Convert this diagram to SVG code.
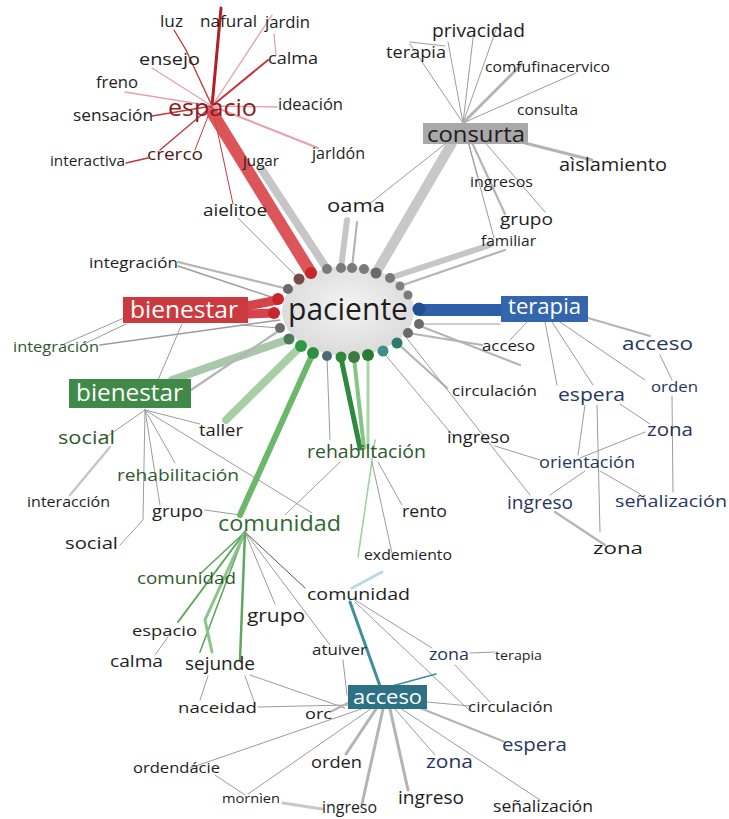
<svg xmlns="http://www.w3.org/2000/svg" width="729" height="819" viewBox="0 0 729 819">
<defs>
  <radialGradient id="hubFill" cx="50%" cy="45%" r="60%">
    <stop offset="0%" stop-color="#f4f4f4"/>
    <stop offset="100%" stop-color="#d8d8d8"/>
  </radialGradient>
</defs>
<style>
  text { font-family: "Open Sans", "Liberation Sans", sans-serif; fill: #1e1e1e; }
  .navy { fill: #27365f; }
  .dg { fill: #2d5a2d; }
  .wt { fill: #ffffff; }
  line, polyline { stroke-linecap: round; fill: none; }
  .g1 { stroke: #9c9c9c; stroke-width: 1; }
  .g2 { stroke: #b4b4b4; stroke-width: 2.2; }
  .g3 { stroke: #c6c6c6; stroke-width: 7; }
  .r1 { stroke: #c0393f; stroke-width: 1.4; }
  .p1 { stroke: #e6a3a6; stroke-width: 1.3; }
  .gn1 { stroke: #5ea85e; stroke-width: 1.6; }
  .gn2 { stroke: #8cc58c; stroke-width: 3; }
  .tl1 { stroke: #3e8ea0; stroke-width: 1.5; }
  .dot { stroke: none; }
</style>

<rect width="729" height="819" fill="#ffffff"/>

<g id="connectors">
  <!-- espacio cluster -->
  <line class="r1" x1="212" y1="106" x2="221" y2="8" style="stroke-width:3;stroke:#b32024"/>
  <polyline class="r1" points="174,30 186,50 212,106"/>
  <line class="p1" x1="212" y1="106" x2="272" y2="15"/>
  <line class="p1" x1="274" y1="34" x2="276" y2="55"/>
  <line class="r1" x1="212" y1="106" x2="268" y2="60" style="stroke-width:2"/>
  <line class="p1" x1="212" y1="106" x2="152" y2="68"/>
  <line class="p1" x1="212" y1="106" x2="125" y2="92"/>
  <line class="r1" x1="212" y1="106" x2="152" y2="116"/>
  <line class="p1" x1="212" y1="106" x2="277" y2="107"/>
  <line class="p1" x1="212" y1="106" x2="318" y2="148" style="stroke-width:2"/>
  <line class="r1" x1="212" y1="106" x2="160" y2="150"/>
  <line class="r1" x1="148" y1="158" x2="126" y2="163"/>
  <line class="r1" x1="212" y1="106" x2="195" y2="150" style="stroke-width:1"/>
  <line class="p1" x1="212" y1="106" x2="243" y2="170"/>
  <line class="r1" x1="212" y1="106" x2="233" y2="204" style="stroke-width:1"/>
  <line class="g1" x1="238" y1="218" x2="299" y2="279"/>
  <line class="g3" x1="262" y1="170" x2="327" y2="269" style="stroke-width:8"/>
  <line x1="213" y1="114" x2="311" y2="273" style="stroke:#d9464b;stroke-width:12;opacity:0.92"/>

  <!-- consurta cluster -->
  <line class="g1" x1="463" y1="123" x2="410" y2="44"/>
  <line class="g1" x1="410" y1="42" x2="445" y2="46"/>
  <line class="g1" x1="463" y1="123" x2="448" y2="42"/>
  <line class="g1" x1="463" y1="123" x2="474" y2="30"/>
  <line class="g1" x1="463" y1="123" x2="497" y2="27"/>
  <line class="g2" x1="463" y1="123" x2="522" y2="64" style="stroke-width:3"/>
  <line class="g1" x1="463" y1="123" x2="576" y2="73"/>
  <line class="g2" x1="525" y1="143" x2="592" y2="160" style="stroke-width:3"/>
  <line class="g1" x1="463" y1="123" x2="478" y2="177"/>
  <line class="g2" x1="463" y1="123" x2="505" y2="214"/>
  <line class="g1" x1="463" y1="123" x2="494" y2="238"/>
  <line class="g1" x1="470" y1="125" x2="545" y2="212"/>
  <line class="g1" x1="445" y1="144" x2="368" y2="205"/>
  <line x1="452" y1="143" x2="376" y2="273" style="stroke:#c8c8c8;stroke-width:10"/>
  <line class="g3" x1="490" y1="245" x2="390" y2="278" style="stroke-width:6"/>
  <line class="g2" x1="505" y1="250" x2="400" y2="286"/>
  <line class="g3" x1="347" y1="220" x2="341" y2="268" style="stroke-width:6"/>
  <line class="g2" x1="357" y1="222" x2="352" y2="268"/>

  <!-- bienestar (red) side -->
  <line class="g2" x1="178" y1="262" x2="288" y2="289"/>
  <line class="g1" x1="178" y1="266" x2="280" y2="300" style="stroke-width:1.5"/>
  <line x1="247" y1="306" x2="278" y2="300" style="stroke:#d64449;stroke-width:9"/>
  <line x1="247" y1="314" x2="274" y2="313" style="stroke:#d64449;stroke-width:9"/>
  <line class="g1" x1="240" y1="325" x2="280" y2="328"/>
  <line class="g1" x1="124" y1="318" x2="62" y2="345"/>
  <line class="g1" x1="126" y1="324" x2="82" y2="345"/>
  <line class="g1" x1="182" y1="324" x2="158" y2="380"/>
  <line class="g1" x1="100" y1="345" x2="280" y2="320" style="stroke-width:1.5"/>

  <!-- bienestar (green) side -->
  <line x1="172" y1="380" x2="289" y2="339" style="stroke:#a9c8a9;stroke-width:8"/>
  <line class="g2" x1="191" y1="390" x2="280" y2="330"/>
  <line x1="226" y1="420" x2="301" y2="346" style="stroke:#a6cfa6;stroke-width:8"/>
  <line class="g1" x1="145" y1="410" x2="102" y2="440"/>
  <line class="g2" x1="110" y1="447" x2="70" y2="495" style="stroke:#c4c4c4"/>
  <polyline class="g1" points="145,410 143,520 120,545"/>
  <line class="g1" x1="145" y1="410" x2="160" y2="505"/>
  <line class="g1" x1="145" y1="410" x2="175" y2="463"/>
  <line class="g1" x1="145" y1="410" x2="200" y2="424"/>
  <line class="g1" x1="145" y1="410" x2="312" y2="513"/>
  <line class="g1" x1="205" y1="510" x2="240" y2="515"/>

  <!-- paciente to rehabiltación / comunidad -->
  <line x1="240" y1="515" x2="313" y2="353" style="stroke:#6bb86b;stroke-width:6"/>
  <line x1="360" y1="448" x2="341" y2="358" style="stroke:#2f8a3f;stroke-width:5"/>
  <line x1="364" y1="448" x2="354" y2="358" style="stroke:#86c486;stroke-width:4"/>
  <line x1="368" y1="448" x2="368" y2="355" style="stroke:#a8d8a8;stroke-width:3"/>
  <line class="g1" x1="327" y1="356" x2="330" y2="440"/>
  <line class="g1" x1="340" y1="462" x2="285" y2="515"/>
  <line class="gn1" x1="375" y1="440" x2="358" y2="557" style="stroke:#9fd29f"/>
  <line class="g1" x1="378" y1="462" x2="402" y2="505"/>
  <line class="g1" x1="372" y1="462" x2="392" y2="553"/>

  <!-- paciente to right side -->
  <line x1="419" y1="310" x2="502" y2="310" style="stroke:#2f5fa8;stroke-width:12"/>
  <line class="g1" x1="383" y1="352" x2="455" y2="438"/>
  <line class="g2" x1="397" y1="343" x2="447" y2="388"/>
  <line class="g2" x1="408" y1="333" x2="482" y2="345"/>
  <line class="g1" x1="419" y1="324" x2="500" y2="324"/>
  <line class="g2" x1="420" y1="326" x2="520" y2="365"/>
  <line class="g1" x1="405" y1="336" x2="530" y2="495"/>

  <!-- terapia cluster -->
  <line class="g1" x1="527" y1="322" x2="510" y2="340"/>
  <line class="g1" x1="545" y1="322" x2="557" y2="385"/>
  <line class="g1" x1="552" y1="322" x2="593" y2="385"/>
  <line class="g2" x1="588" y1="318" x2="650" y2="336"/>
  <line class="g1" x1="560" y1="322" x2="645" y2="380"/>
  <line class="g1" x1="660" y1="355" x2="672" y2="380"/>
  <line class="g1" x1="672" y1="396" x2="673" y2="492"/>
  <line class="g1" x1="585" y1="405" x2="578" y2="455"/>
  <line class="g1" x1="597" y1="405" x2="600" y2="532"/>
  <line class="g1" x1="620" y1="404" x2="650" y2="424"/>
  <line class="g1" x1="645" y1="432" x2="580" y2="458"/>
  <line class="g1" x1="585" y1="471" x2="550" y2="495"/>
  <line class="g1" x1="600" y1="471" x2="640" y2="494"/>
  <line class="g1" x1="495" y1="446" x2="540" y2="460"/>
  <line class="g2" x1="555" y1="512" x2="605" y2="545"/>

  <!-- comunidad (green) cluster -->
  <line class="gn1" x1="245" y1="532" x2="200" y2="574"/>
  <line class="gn1" x1="245" y1="532" x2="178" y2="622" style="stroke-width:2"/>
  <line class="g1" x1="168" y1="637" x2="155" y2="655"/>
  <line class="gn1" x1="245" y1="532" x2="200" y2="652"/>
  <polyline class="gn2" points="245,532 205,620 212,652"/>
  <line class="gn1" x1="245" y1="532" x2="240" y2="660" style="stroke-width:2.5"/>
  <line class="g1" x1="245" y1="532" x2="275" y2="604"/>
  <line class="g1" x1="245" y1="532" x2="305" y2="588" style="stroke:#555"/>
  <line class="g1" x1="245" y1="532" x2="330" y2="645"/>
  <line class="g1" x1="245" y1="676" x2="255" y2="704"/>
  <line class="g1" x1="208" y1="676" x2="200" y2="700"/>
  <line class="g1" x1="250" y1="675" x2="345" y2="708"/>
  <line class="g1" x1="258" y1="707" x2="348" y2="705"/>

  <!-- acceso (teal) cluster -->
  <line x1="352" y1="588" x2="382" y2="572" style="stroke:#b8dbe2;stroke-width:3"/>
  <line x1="350" y1="602" x2="380" y2="686" style="stroke:#3e8ea0;stroke-width:3"/>
  <line class="g1" x1="355" y1="602" x2="470" y2="711"/>
  <line class="g1" x1="355" y1="600" x2="432" y2="648"/>
  <line class="g1" x1="455" y1="665" x2="490" y2="702"/>
  <line class="g1" x1="470" y1="653" x2="495" y2="652"/>
  <line class="tl1" x1="392" y1="686" x2="436" y2="674"/>
  <line class="g1" x1="427" y1="702" x2="470" y2="706"/>
  <line class="g2" x1="420" y1="708" x2="505" y2="742"/>
  <line class="g1" x1="400" y1="708" x2="540" y2="800"/>
  <line class="g1" x1="395" y1="709" x2="435" y2="755"/>
  <line class="g2" x1="390" y1="709" x2="408" y2="790" style="stroke-width:3"/>
  <line class="g2" x1="383" y1="709" x2="362" y2="804" style="stroke-width:3"/>
  <line class="g2" x1="376" y1="709" x2="346" y2="754" style="stroke-width:3"/>
  <line class="g1" x1="370" y1="706" x2="190" y2="768"/>
  <line class="g1" x1="372" y1="708" x2="248" y2="794"/>
  <line class="g2" x1="348" y1="703" x2="332" y2="711"/>
  <line class="g1" x1="343" y1="660" x2="347" y2="695"/>
  <line class="g1" x1="215" y1="775" x2="245" y2="795"/>
  <line class="g2" x1="283" y1="803" x2="322" y2="809" style="stroke-width:3;stroke:#c8c8c8"/>
</g>

<g id="node-paciente">
  <ellipse cx="348" cy="311" rx="66" ry="45" fill="url(#hubFill)"/>
  <g class="dot">
    <circle cx="311" cy="273" r="6" fill="#c9252c"/>
    <circle cx="299" cy="279" r="5.5" fill="#7a4a4a"/>
    <circle cx="327" cy="269" r="5" fill="#7a7a7a"/>
    <circle cx="341" cy="268" r="5" fill="#7a7a7a"/>
    <circle cx="352" cy="268" r="5" fill="#7a7a7a"/>
    <circle cx="364" cy="269" r="5" fill="#7a7a7a"/>
    <circle cx="376" cy="273" r="5.5" fill="#6a6a6a"/>
    <circle cx="390" cy="278" r="5" fill="#7a7a7a"/>
    <circle cx="400" cy="286" r="4.5" fill="#808080"/>
    <circle cx="408" cy="295" r="4.5" fill="#7a7a7a"/>
    <circle cx="419" cy="309" r="6.5" fill="#1f4f8f"/>
    <circle cx="419" cy="324" r="5" fill="#6a6a6a"/>
    <circle cx="408" cy="333" r="5" fill="#6a6a6a"/>
    <circle cx="397" cy="343" r="5.5" fill="#2c7a70"/>
    <circle cx="383" cy="351" r="5.5" fill="#3f8e8a"/>
    <circle cx="368" cy="355" r="6" fill="#2d7a35"/>
    <circle cx="354" cy="357" r="6" fill="#3d7a3d"/>
    <circle cx="341" cy="357" r="5.5" fill="#2e8a3a"/>
    <circle cx="327" cy="356" r="5" fill="#4a6a7a"/>
    <circle cx="313" cy="353" r="6" fill="#2f8f3f"/>
    <circle cx="301" cy="346" r="6" fill="#2f9a3f"/>
    <circle cx="289" cy="339" r="5.5" fill="#4a7a5a"/>
    <circle cx="280" cy="328" r="5" fill="#6a6a6a"/>
    <circle cx="274" cy="313" r="6" fill="#c9252c"/>
    <circle cx="278" cy="299" r="6" fill="#c9252c"/>
    <circle cx="288" cy="289" r="5" fill="#6a6a6a"/>
  </g>
  <text x="288" y="320" font-size="31" textLength="120" lengthAdjust="spacingAndGlyphs" fill="#111">paciente</text>
</g>

<g id="node-espacio">
  <text x="168" y="116" font-size="24" textLength="89" lengthAdjust="spacingAndGlyphs" style="fill:#8e1a1e">espacio</text>
  <text x="160" y="27" font-size="17" textLength="23" lengthAdjust="spacingAndGlyphs">luz</text>
  <text x="200" y="27" font-size="17" textLength="57" lengthAdjust="spacingAndGlyphs">nafural</text>
  <text x="265" y="28" font-size="17" textLength="45" lengthAdjust="spacingAndGlyphs">jardin</text>
  <text x="139" y="65" font-size="17" textLength="61" lengthAdjust="spacingAndGlyphs">ensejo</text>
  <text x="268" y="64" font-size="17" textLength="50" lengthAdjust="spacingAndGlyphs">calma</text>
  <text x="96" y="88" font-size="17" textLength="42" lengthAdjust="spacingAndGlyphs">freno</text>
  <text x="73" y="121" font-size="16" textLength="80" lengthAdjust="spacingAndGlyphs">sensación</text>
  <text x="278" y="110" font-size="16" textLength="65" lengthAdjust="spacingAndGlyphs">ideación</text>
  <text x="147" y="160" font-size="17" textLength="56" lengthAdjust="spacingAndGlyphs" style="fill:#4a1a1a">crerco</text>
  <text x="50" y="166" font-size="14" textLength="75" lengthAdjust="spacingAndGlyphs">interactiva</text>
  <text x="312" y="159" font-size="16" textLength="53" lengthAdjust="spacingAndGlyphs">jarldón</text>
  <text x="243" y="166" font-size="14" textLength="36" lengthAdjust="spacingAndGlyphs">jugar</text>
  <text x="203" y="216" font-size="17" textLength="64" lengthAdjust="spacingAndGlyphs">aielitoe</text>
  <text x="327" y="212" font-size="18" textLength="58" lengthAdjust="spacingAndGlyphs">oama</text>
</g>

<g id="node-consurta">
  <rect x="423" y="123" width="105" height="21" fill="#a9a9a9"/>
  <text x="427" y="142" font-size="22" textLength="98" lengthAdjust="spacingAndGlyphs" fill="#333">consurta</text>
  <text x="432" y="37" font-size="18" textLength="93" lengthAdjust="spacingAndGlyphs">privacidad</text>
  <text x="386" y="58" font-size="17" textLength="60" lengthAdjust="spacingAndGlyphs">terapia</text>
  <text x="485" y="72" font-size="14" textLength="125" lengthAdjust="spacingAndGlyphs">comfufinacervico</text>
  <text x="517" y="115" font-size="14" textLength="61" lengthAdjust="spacingAndGlyphs">consulta</text>
  <text x="559" y="171" font-size="19" textLength="108" lengthAdjust="spacingAndGlyphs">aìslamiento</text>
  <text x="470" y="187" font-size="14" textLength="63" lengthAdjust="spacingAndGlyphs">ingresos</text>
  <text x="500" y="225" font-size="17" textLength="53" lengthAdjust="spacingAndGlyphs">grupo</text>
  <text x="481" y="246" font-size="14" textLength="55" lengthAdjust="spacingAndGlyphs">familiar</text>
</g>

<g id="node-bienestar-rojo">
  <rect x="123" y="297" width="125" height="26" fill="#cc3a3f"/>
  <text class="wt" x="130" y="318" font-size="23" textLength="108" lengthAdjust="spacingAndGlyphs">bienestar</text>
  <text x="89" y="268" font-size="15" textLength="89" lengthAdjust="spacingAndGlyphs">integración</text>
</g>

<g id="node-bienestar-verde">
  <rect x="69" y="379" width="122" height="29" fill="#3f8a48"/>
  <text class="wt" x="76" y="401" font-size="23" textLength="107" lengthAdjust="spacingAndGlyphs">bienestar</text>
  <text class="dg" x="13" y="352" font-size="15" textLength="86" lengthAdjust="spacingAndGlyphs">integración</text>
  <text x="199" y="436" font-size="17" textLength="44" lengthAdjust="spacingAndGlyphs">taller</text>
  <text class="dg" x="58" y="444" font-size="19" textLength="57" lengthAdjust="spacingAndGlyphs">social</text>
  <text class="dg" x="117" y="481" font-size="17" textLength="122" lengthAdjust="spacingAndGlyphs">rehabilitación</text>
  <text x="27" y="507" font-size="15" textLength="83" lengthAdjust="spacingAndGlyphs">interacción</text>
  <text x="152" y="517" font-size="17" textLength="51" lengthAdjust="spacingAndGlyphs">grupo</text>
  <text x="65" y="549" font-size="17" textLength="53" lengthAdjust="spacingAndGlyphs">social</text>
</g>

<g id="node-rehabiltacion">
  <text class="dg" x="307" y="458" font-size="19" textLength="119" lengthAdjust="spacingAndGlyphs">rehabiltación</text>
  <text x="402" y="517" font-size="17" textLength="45" lengthAdjust="spacingAndGlyphs">rento</text>
  <text x="364" y="560" font-size="14" textLength="88" lengthAdjust="spacingAndGlyphs">exdemiento</text>
</g>

<g id="node-terapia">
  <rect x="501" y="296" width="87" height="26" fill="#3466ad"/>
  <text class="wt" x="508" y="314" font-size="22" textLength="73" lengthAdjust="spacingAndGlyphs">terapia</text>
  <text x="482" y="351" font-size="14" textLength="53" lengthAdjust="spacingAndGlyphs">acceso</text>
  <text class="navy" x="622" y="350" font-size="19" textLength="71" lengthAdjust="spacingAndGlyphs">acceso</text>
  <text x="452" y="396" font-size="15" textLength="85" lengthAdjust="spacingAndGlyphs">circulación</text>
  <text class="navy" x="558" y="401" font-size="19" textLength="67" lengthAdjust="spacingAndGlyphs">espera</text>
  <text class="navy" x="651" y="392" font-size="15" textLength="47" lengthAdjust="spacingAndGlyphs">orden</text>
  <text class="navy" x="647" y="436" font-size="18" textLength="46" lengthAdjust="spacingAndGlyphs">zona</text>
  <text x="447" y="443" font-size="17" textLength="63" lengthAdjust="spacingAndGlyphs">ingreso</text>
  <text class="navy" x="539" y="468" font-size="17" textLength="96" lengthAdjust="spacingAndGlyphs">orientación</text>
  <text class="navy" x="507" y="509" font-size="19" textLength="66" lengthAdjust="spacingAndGlyphs">ingreso</text>
  <text class="navy" x="615" y="507" font-size="17" textLength="112" lengthAdjust="spacingAndGlyphs">señalización</text>
  <text x="593" y="554" font-size="17" textLength="50" lengthAdjust="spacingAndGlyphs">zona</text>
</g>

<g id="node-comunidad">
  <text x="218" y="531" font-size="21" textLength="123" lengthAdjust="spacingAndGlyphs" style="fill:#2e6b2e">comunidad</text>
  <text class="dg" x="137" y="584" font-size="17" textLength="99" lengthAdjust="spacingAndGlyphs">comunidad</text>
  <text x="247" y="622" font-size="19" textLength="58" lengthAdjust="spacingAndGlyphs">grupo</text>
  <text x="132" y="636" font-size="15" textLength="65" lengthAdjust="spacingAndGlyphs">espacio</text>
  <text x="110" y="667" font-size="17" textLength="53" lengthAdjust="spacingAndGlyphs">calma</text>
  <text x="185" y="670" font-size="18" textLength="70" lengthAdjust="spacingAndGlyphs">sejunde</text>
  <text x="178" y="713" font-size="15" textLength="79" lengthAdjust="spacingAndGlyphs">naceidad</text>
</g>

<g id="node-acceso">
  <rect x="348" y="685" width="79" height="24" fill="#2e7186"/>
  <text class="wt" x="353" y="704" font-size="20" textLength="69" lengthAdjust="spacingAndGlyphs">acceso</text>
  <text x="307" y="600" font-size="17" textLength="103" lengthAdjust="spacingAndGlyphs">comunidad</text>
  <text x="312" y="655" font-size="15" textLength="55" lengthAdjust="spacingAndGlyphs">atuiver</text>
  <text x="305" y="719" font-size="15" textLength="27" lengthAdjust="spacingAndGlyphs">orc</text>
  <text class="navy" x="429" y="660" font-size="17" textLength="40" lengthAdjust="spacingAndGlyphs">zona</text>
  <text x="495" y="660" font-size="13" textLength="47" lengthAdjust="spacingAndGlyphs">terapia</text>
  <text x="468" y="712" font-size="15" textLength="85" lengthAdjust="spacingAndGlyphs">circulación</text>
  <text class="navy" x="502" y="751" font-size="19" textLength="65" lengthAdjust="spacingAndGlyphs">espera</text>
  <text x="311" y="768" font-size="17" textLength="51" lengthAdjust="spacingAndGlyphs">orden</text>
  <text class="navy" x="426" y="768" font-size="19" textLength="47" lengthAdjust="spacingAndGlyphs">zona</text>
  <text x="133" y="773" font-size="15" textLength="87" lengthAdjust="spacingAndGlyphs">ordendácie</text>
  <text x="222" y="803" font-size="13" textLength="58" lengthAdjust="spacingAndGlyphs">mornìen</text>
  <text x="322" y="813" font-size="16" textLength="55" lengthAdjust="spacingAndGlyphs">ingreso</text>
  <text x="398" y="804" font-size="18" textLength="66" lengthAdjust="spacingAndGlyphs">ingreso</text>
  <text x="493" y="812" font-size="17" textLength="100" lengthAdjust="spacingAndGlyphs">señalización</text>
</g>
</svg>
